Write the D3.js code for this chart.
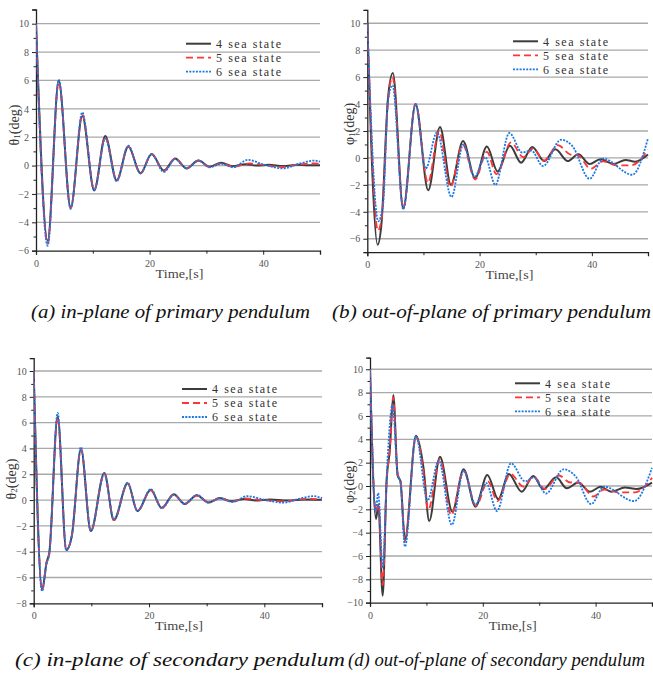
<!DOCTYPE html>
<html><head><meta charset="utf-8">
<script src="https://cdn.jsdelivr.net/npm/d3@7"></script>
<style>body{margin:0;background:#fff}svg{display:block}</style>
</head><body>
<svg id="c" width="653" height="677"></svg>
<script>
// ---------- data ----------
const seriesNames = ["4 sea state", "5 sea state", "6 sea state"];
const xTicks = [0, 20, 40];
const xLabel = "Time,[s]";
const captions = ["(a) in-plane of primary pendulum", "(b) out-of-plane of primary pendulum",
  "(c) in-plane of secondary pendulum", "(d) out-of-plane of secondary pendulum"];

// (a) theta1
const a4 = [[0,10],[2.05,-5.3],[4.0,6.0],[6.1,-3.0],[8.15,3.5],[10.25,-1.75],[12.2,2.08],[14.2,-1.05],[16.25,1.35],[18.4,-0.55],[20.35,0.82],[22.5,-0.35],[24.5,0.5],[26.5,-0.2],[28.6,0.35],[30.6,-0.08],[32.6,0.2],[34.6,-0.05],[36.8,0.1],[39,0],[41,0.05],[43.5,-0.03],[46,0.05],[48,0.02],[50,0.03]];
const a5 = [[0,10],[2.05,-5.5],[4.0,5.9],[6.1,-3.0],[8.15,3.6],[10.25,-1.7],[12.2,2.0],[14.2,-1.05],[16.25,1.35],[18.4,-0.55],[20.35,0.8],[22.5,-0.4],[24.5,0.5],[26.5,-0.2],[28.6,0.35],[30.6,-0.1],[32.6,0.15],[34.8,-0.08],[37.5,0.15],[40,0.05],[43.3,-0.1],[46,0.05],[49,0.15],[50,0.12]];
const a6 = [[0,10],[2.05,-5.65],[4.0,6.05],[6.1,-3.05],[8.15,3.75],[10.25,-1.75],[12.2,1.9],[14.2,-1.1],[16.25,1.4],[18.4,-0.55],[20.35,0.8],[22.5,-0.45],[24.5,0.45],[26.5,-0.2],[28.6,0.35],[30.6,-0.12],[32.6,0.12],[34.7,-0.12],[37.3,0.4],[40,0.08],[43.5,-0.2],[46.5,0.15],[49,0.35],[50,0.28]];

// (b) phi1
const b4 = [[0,10],[1.84,-6.45],[2.5,-5.0],[3.7,4.5],[4.55,6.3],[6.4,-3.75],[8.6,4.0],[10.85,-2.4],[12.95,2.3],[14.9,-2.0],[17.05,1.25],[19.2,-1.5],[21.3,0.84],[23.2,-1.0],[25.4,0.9],[27.4,-0.35],[29.4,0.82],[31.5,-0.23],[33.5,0.65],[35.7,-0.23],[37.6,0.27],[39.6,-0.45],[41.5,-0.1],[43.9,-0.45],[46,-0.15],[47.7,-0.28],[50,0.25]];
const b5 = [[0,10],[1.9,-5.4],[2.6,-4.3],[3.7,4.3],[4.5,6.0],[6.4,-3.7],[8.6,4.0],[10.8,-1.85],[12.8,2.0],[14.8,-2.15],[17.0,1.0],[19.2,-1.6],[21.3,0.45],[23.0,-1.2],[25.6,1.15],[27.8,0.05],[29.5,0.7],[31.5,-0.2],[33.9,0.95],[36.2,0.25],[37.5,0.2],[39.8,-0.8],[42,-0.25],[44.5,-0.55],[47,-0.55],[50,0.6]];
const b6 = [[0,10],[1.95,-4.7],[2.8,-3.5],[3.7,4.3],[4.5,5.4],[6.4,-3.8],[8.6,4.0],[10.4,-0.8],[12.4,1.9],[15.0,-2.9],[17.1,1.0],[19.1,-1.4],[21.0,0.05],[22.8,-2.0],[25.3,1.85],[27.6,0.4],[29.2,0.55],[31.3,-0.6],[34.5,1.35],[36.5,0.9],[39.6,-1.55],[42,-0.05],[47.2,-1.25],[50,1.45]];

// (c) theta2
const c4 = [[0,10],[1.45,-6.95],[2.25,-4.8],[2.7,-4.1],[4.15,6.5],[5.65,-3.87],[6.6,-2.8],[8.2,3.95],[9.9,-2.4],[12.25,2.1],[13.9,-1.55],[16.3,1.3],[18.0,-0.85],[20.3,0.8],[22.2,-0.6],[24.3,0.45],[26.2,-0.3],[28.3,0.38],[30.3,-0.18],[32.3,0.15],[34.3,-0.1],[36.5,0.08],[38.5,-0.03],[41,0.05],[44,-0.03],[47,0.05],[50,0.02]];
const c5 = [[0,10],[1.45,-6.95],[2.25,-4.8],[2.7,-4.1],[4.15,6.4],[5.65,-3.87],[6.6,-2.8],[8.2,3.95],[9.9,-2.4],[12.25,2.05],[13.9,-1.55],[16.3,1.3],[18.0,-0.85],[20.3,0.75],[22.2,-0.6],[24.3,0.42],[26.2,-0.3],[28.3,0.35],[30.3,-0.18],[32.3,0.15],[34.3,-0.1],[36.8,0.12],[39.5,0],[43.3,-0.1],[47.5,0.1],[50,0.05]];
const c6 = [[0,10],[1.45,-7.05],[2.25,-4.9],[2.7,-4.2],[4.15,6.75],[5.65,-3.9],[6.6,-2.8],[8.2,4.1],[9.9,-2.4],[12.25,2.0],[13.9,-1.5],[16.3,1.35],[18.0,-0.85],[20.3,0.85],[22.2,-0.65],[24.3,0.4],[26.2,-0.3],[28.3,0.4],[30.3,-0.2],[32.3,0.12],[34.5,-0.15],[37,0.3],[40,0.02],[43.3,-0.2],[46,0.1],[48.5,0.3],[50,0.15]];

// (d) phi2
const d4 = [[0,10],[1.06,-2.83],[1.48,-1.6],[2.25,-9.4],[2.95,0.5],[3.5,3.0],[4.14,7.8],[4.9,0.9],[5.4,0.4],[6.2,-4.6],[8.15,4.3],[9.5,1.5],[10.5,-3.0],[12.4,2.5],[14.6,-2.2],[16.6,1.43],[18.7,-1.77],[20.8,0.94],[22.75,-1.14],[24.6,1.03],[26.9,-0.49],[28.95,0.86],[30.7,-0.29],[33.0,0.74],[34.9,-0.2],[36.9,0.29],[39,-0.49],[40.9,-0.06],[42.8,-0.49],[45.2,-0.14],[47.3,-0.26],[50,0.29]];
const d5 = [[0,10],[1.06,-2.2],[1.5,-1.5],[2.25,-8.5],[2.95,0.5],[3.5,3.0],[4.1,7.6],[4.9,1.0],[5.4,0.5],[6.2,-4.7],[8.15,4.2],[9.4,1.5],[10.3,-2.06],[12.4,2.3],[14.4,-2.49],[16.6,1.3],[18.8,-1.7],[20.9,0.4],[22.6,-1.3],[24.9,1.05],[27.2,-0.05],[29,0.8],[31,-0.25],[33.5,0.9],[35.5,0.3],[37,0.3],[39.6,-0.9],[41.5,-0.3],[44,-0.55],[47,-0.55],[50,0.7]];
const d6 = [[0,10],[1.0,-2.2],[1.45,-0.6],[2.25,-7.0],[3.1,2.2],[4.0,7.0],[4.9,1.0],[5.4,0.3],[6.2,-5.2],[8.15,4.3],[10.2,-1.25],[12.2,2.2],[14.5,-3.34],[16.6,1.3],[18.7,-1.6],[20.6,0.25],[22.5,-2.15],[25.0,1.94],[27.5,0.4],[29.1,0.75],[31.2,-0.65],[34.3,1.43],[36.5,0.8],[39.2,-1.55],[41.5,-0.05],[46.8,-1.3],[50,1.55]];

const yMins = [-6, -7, -8, -10];
const yLabelSym = ["θ", "φ", "θ", "φ"];
const yLabelSub = ["1", "1", "2", "2"];

// ---------- layout ----------
const panels = [
  {x0: 36, x1: 320, yt: 9.5, yb: 250.7, series: [a4, a5, a6], lx: 186, ly: 43.7, labX: 14, labY: 125, capX: 31, capW: 279, capY: 318},
  {x0: 367.3, x1: 648, yt: 9.8, yb: 252.2, series: [b4, b5, b6], lx: 513, ly: 41.3, labX: 349, labY: 124, capX: 332, capW: 319, capY: 318},
  {x0: 33.7, x1: 322, yt: 358.1, yb: 603.3, series: [c4, c5, c6], lx: 182, ly: 389, labX: 11, labY: 479, capX: 15, capW: 330, capY: 666},
  {x0: 370, x1: 652, yt: 357.6, yb: 602.7, series: [d4, d5, d6], lx: 515, ly: 383.3, labX: 349, labY: 482, capX: 348, capW: 297, capY: 666}
];
const styles = [
  {color: "#3c3c3c", dash: null, w: 2},
  {color: "#ff3535", dash: "7,4", w: 1.8},
  {color: "#1a78e6", dash: "2,1.3", w: 1.8}
];

const svg = d3.select("#c");
const serif = "Liberation Serif, Times New Roman, serif";

panels.forEach((p, i) => {
  const x = d3.scaleLinear().domain([0, 50]).range([p.x0, p.x1]);
  const y = d3.scaleLinear().domain([yMins[i], 11]).range([p.yb, p.yt]);
  const g = svg.append("g");

  const yMaj = d3.range(yMins[i], 11).filter(v => v % 2 === 0);
  const yMin = d3.range(yMins[i], 12).filter(v => Math.abs(v % 2) === 1);

  // gridlines
  g.append("g").selectAll("line").data(yMaj.filter(v => v !== yMins[i])).join("line")
    .attr("x1", p.x0).attr("x2", p.x1).attr("y1", d => y(d)).attr("y2", d => y(d))
    .attr("stroke", "#a9a9a9").attr("stroke-width", 1.3);

  // y axis
  const yAxis = d3.axisLeft(y).tickValues(yMaj).tickSize(4).tickPadding(3)
    .tickFormat(d => (d < 0 ? "\u2212" + Math.abs(d) : d));
  const ya = g.append("g").attr("transform", `translate(${p.x0},0)`).call(yAxis);
  ya.select(".domain").attr("stroke", "#222").attr("stroke-width", 1.3);
  ya.selectAll(".tick line").attr("stroke", "#222");
  ya.selectAll("text").attr("font-family", serif).attr("font-size", 10).attr("fill", "#555");
  const ym = g.append("g").attr("transform", `translate(${p.x0},0)`)
    .call(d3.axisLeft(y).tickValues(yMin).tickSize(2.5).tickFormat(""));
  ym.select(".domain").remove();
  ym.selectAll(".tick line").attr("stroke", "#222");

  // x axis
  const xAxis = d3.axisBottom(x).tickValues(xTicks).tickSize(4).tickPadding(5).tickFormat(d3.format("d"));
  const xa = g.append("g").attr("transform", `translate(0,${p.yb})`).call(xAxis);
  xa.select(".domain").attr("stroke", "#222").attr("stroke-width", 1.3);
  xa.selectAll(".tick line").attr("stroke", "#222");
  xa.selectAll("text").attr("font-family", serif).attr("font-size", 10).attr("fill", "#555");
  const xm = g.append("g").attr("transform", `translate(0,${p.yb})`)
    .call(d3.axisBottom(x).tickValues([10, 30, 50]).tickSize(3).tickFormat(""));
  xm.select(".domain").remove();
  xm.selectAll(".tick line").attr("stroke", "#222");

  g.append("text").attr("x", x(20) + 6).attr("y", p.yb + 27)
    .attr("font-family", serif).attr("font-size", 13).attr("fill", "#444")
    .attr("textLength", 48).attr("lengthAdjust", "spacingAndGlyphs").text(xLabel);

  // y label
  const lt = g.append("text")
    .attr("transform", `translate(${p.labX},${p.labY}) rotate(-90)`)
    .attr("text-anchor", "middle").attr("dominant-baseline", "central")
    .attr("font-family", serif).attr("font-size", 14).attr("fill", "#333");
  lt.append("tspan").text(yLabelSym[i]);
  lt.append("tspan").attr("font-size", 9).attr("dy", 3).text(yLabelSub[i]);
  lt.append("tspan").attr("dy", -3).text("(deg)");

  // clip
  const cid = "clip" + i;
  svg.append("clipPath").attr("id", cid).append("rect")
    .attr("x", p.x0).attr("y", p.yt - 2).attr("width", p.x1 - p.x0 + 2).attr("height", p.yb - p.yt + 2);

  const line = d3.line().x(d => x(d[0])).y(d => y(d[1])).curve(d3.curveMonotoneX);
  const lines = g.append("g").attr("clip-path", `url(#${cid})`);
  p.series.forEach((s, k) => {
    lines.append("path").datum(s).attr("d", line).attr("fill", "none")
      .attr("stroke", styles[k].color).attr("stroke-width", styles[k].w)
      .attr("stroke-dasharray", styles[k].dash);
  });

  // legend
  seriesNames.forEach((n, k) => {
    const yy = p.ly + k * 14;
    g.append("line").attr("x1", p.lx).attr("x2", p.lx + 25).attr("y1", yy).attr("y2", yy)
      .attr("stroke", styles[k].color).attr("stroke-width", styles[k].w)
      .attr("stroke-dasharray", styles[k].dash);
    g.append("text").attr("x", p.lx + 30).attr("y", yy).attr("dy", "0.35em")
      .attr("font-family", serif).attr("font-size", 12).attr("fill", "#333")
      .attr("textLength", 65).attr("lengthAdjust", "spacing").text(n);
  });

  // caption
  svg.append("text").attr("x", p.capX).attr("y", p.capY)
    .attr("font-family", serif).attr("font-style", "italic").attr("font-size", 18).attr("fill", "#111")
    .attr("textLength", p.capW).attr("lengthAdjust", "spacingAndGlyphs").text(captions[i]);
});
</script>
</body></html>
